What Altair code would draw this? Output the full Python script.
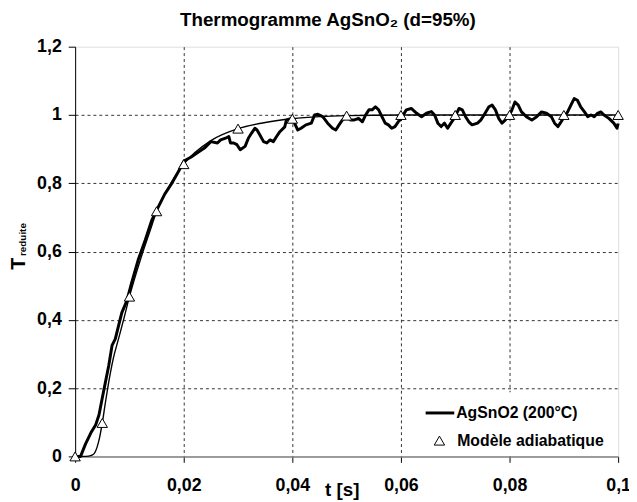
import altair as alt
import pandas as pd

FONT = "Liberation Sans"

# measured thermogram (noisy)
t_mes = [0.0000, 0.0010, 0.0019, 0.0029, 0.0038, 0.0044, 0.0050, 0.0056, 0.0062, 0.0068,
         0.0074, 0.0080, 0.0086, 0.0095, 0.0104, 0.0116, 0.0129, 0.0141, 0.0153, 0.0165,
         0.0177, 0.0189, 0.0201, 0.0213, 0.0225, 0.0238, 0.0250, 0.0262, 0.0268, 0.0277,
         0.0283, 0.0286, 0.0292, 0.0298, 0.0304, 0.0313, 0.0319, 0.0325, 0.0331, 0.0335,
         0.0340, 0.0347, 0.0353, 0.0359, 0.0365, 0.0371, 0.0377, 0.0386, 0.0389, 0.0398,
         0.0404, 0.0410, 0.0416, 0.0425, 0.0435, 0.0441, 0.0447, 0.0456, 0.0465, 0.0474,
         0.0480, 0.0486, 0.0492, 0.0501, 0.0507, 0.0513, 0.0522, 0.0529, 0.0535, 0.0541,
         0.0547, 0.0553, 0.0559, 0.0565, 0.0571, 0.0577, 0.0583, 0.0589, 0.0595, 0.0601,
         0.0604, 0.0610, 0.0619, 0.0629, 0.0638, 0.0647, 0.0656, 0.0662, 0.0668, 0.0674,
         0.0680, 0.0686, 0.0692, 0.0698, 0.0707, 0.0713, 0.0719, 0.0725, 0.0731, 0.0741,
         0.0747, 0.0753, 0.0762, 0.0768, 0.0774, 0.0780, 0.0786, 0.0792, 0.0798, 0.0804,
         0.0810, 0.0816, 0.0822, 0.0831, 0.0841, 0.0850, 0.0859, 0.0868, 0.0877, 0.0883,
         0.0889, 0.0895, 0.0901, 0.0907, 0.0913, 0.0919, 0.0925, 0.0931, 0.0938, 0.0944,
         0.0950, 0.0956, 0.0962, 0.0968, 0.0974, 0.0983, 0.0992, 0.0998, 0.1000]
T_mes = [0.000, 0.000, 0.036, 0.069, 0.093, 0.122, 0.171, 0.219, 0.267, 0.325,
         0.344, 0.383, 0.421, 0.455, 0.508, 0.575, 0.633, 0.691, 0.730, 0.768,
         0.797, 0.831, 0.866, 0.876, 0.889, 0.903, 0.922, 0.918, 0.927, 0.932,
         0.937, 0.918, 0.918, 0.913, 0.898, 0.908, 0.932, 0.947, 0.961, 0.956,
         0.942, 0.922, 0.918, 0.927, 0.922, 0.937, 0.951, 0.965, 0.985, 0.990,
         0.976, 0.956, 0.961, 0.971, 0.976, 1.000, 1.002, 0.995, 0.976, 0.961,
         0.956, 0.971, 0.985, 0.995, 0.985, 0.985, 0.990, 0.980, 1.000, 1.015,
         1.015, 1.024, 1.015, 0.995, 0.976, 0.971, 0.961, 0.966, 0.980, 0.990,
         1.000, 1.015, 1.019, 1.005, 0.995, 1.005, 1.010, 1.000, 0.976, 0.966,
         0.976, 0.961, 0.976, 0.990, 1.019, 1.015, 0.995, 0.980, 0.971, 0.976,
         0.985, 1.000, 1.024, 1.029, 1.015, 0.990, 0.976, 0.985, 0.995, 1.013,
         1.038, 1.029, 1.009, 0.995, 0.985, 0.995, 1.009, 1.005, 0.995, 0.976,
         0.966, 0.980, 0.995, 1.009, 1.029, 1.048, 1.043, 1.024, 1.009, 0.995,
         1.000, 0.995, 1.005, 1.009, 1.000, 0.990, 0.976, 0.961, 0.975]

# adiabatic model (smooth curve)
t_mod = [0.0, 0.002, 0.003, 0.0035, 0.004, 0.0045, 0.005, 0.0055, 0.006, 0.007,
         0.008, 0.009, 0.010, 0.012, 0.014, 0.015, 0.017, 0.020, 0.025, 0.030,
         0.035, 0.040, 0.045, 0.050, 0.060, 0.070, 0.080, 0.090, 0.100]
T_mod = [0.0, 0.0, 0.003, 0.008, 0.025, 0.055, 0.098, 0.150, 0.200, 0.285,
         0.345, 0.405, 0.468, 0.575, 0.670, 0.718, 0.783, 0.856, 0.925, 0.960,
         0.978, 0.989, 0.995, 0.998, 1.0, 1.0, 1.0, 1.0, 1.0]

# model markers
t_tri = [0.0, 0.005, 0.010, 0.015, 0.020, 0.030, 0.040, 0.050, 0.060, 0.070, 0.080, 0.090, 0.100]
T_tri = [0.0, 0.098, 0.468, 0.718, 0.856, 0.960, 0.989, 0.998, 1.0, 1.0, 1.0, 1.0, 1.0]

x_ticks = [0, 0.02, 0.04, 0.06, 0.08, 0.1]
y_ticks = [0, 0.2, 0.4, 0.6, 0.8, 1.0, 1.2]
series = ["AgSnO2 (200°C)", "Modèle adiabatique"]

df_mes = pd.DataFrame({"t": t_mes, "T": T_mes})
df_mod = pd.DataFrame({"t": t_mod, "T": T_mod})
df_tri = pd.DataFrame({"t": t_tri, "T": T_tri})

x_axis = alt.Axis(
    values=x_ticks,
    labelExpr="replace(format(datum.value, '.2~f'), '.', ',')",
    labelFont=FONT, labelFontSize=18, labelFontWeight="bold", labelColor="black",
    labelPadding=15, labelFlush=False, labelOverlap=False,
    tickColor="black", tickSize=6, domainColor="#808080", domainWidth=1.5,
    grid=True, gridColor="#333333", gridDash=[3, 3],
    gridOpacity={"condition": {"test": "datum.value < 0.001 || datum.value > 0.099", "value": 0}, "value": 1},
    title="t [s]", titleFont=FONT, titleFontSize=19, titleFontWeight="bold", titleColor="black",
    titleX=270, titleY=40, titleAlign="center", titleBaseline="alphabetic",
)
y_axis = alt.Axis(
    values=y_ticks,
    labelExpr="replace(format(datum.value, '.1~f'), '.', ',')",
    labelFont=FONT, labelFontSize=18, labelFontWeight="bold", labelColor="black",
    labelPadding=7, labelOverlap=False,
    tickColor="black", tickSize=7, domainColor="black", domainWidth=1,
    grid=True, gridColor="#333333", gridDash=[3, 3],
    gridOpacity={"condition": {"test": "datum.value < 0.01 || datum.value > 1.19", "value": 0}, "value": 1},
    title=None,
)

xs = alt.Scale(domain=[0, 0.1], nice=False, zero=False)
ys = alt.Scale(domain=[0, 1.2], nice=False)

base_x = alt.X("t:Q", scale=xs, axis=x_axis)
base_y = alt.Y("T:Q", scale=ys, axis=y_axis)

measured = alt.Chart(df_mes).mark_line(color="black", strokeWidth=3, strokeJoin="round").encode(
    x=base_x, y=base_y, order="t:Q")
model = alt.Chart(df_mod).mark_line(color="black", strokeWidth=1.4, interpolate="monotone").encode(
    x=base_x, y=base_y)
markers = alt.Chart(df_tri).mark_point(
    shape="triangle-up", size=110, fill="white", stroke="black", strokeWidth=1,
    fillOpacity=1, opacity=1).encode(x=base_x, y=base_y)

# legend (drawn as a small box of marks in the lower right corner)
one = pd.DataFrame({"k": [0]})
leg_box = alt.Chart(one).mark_rect(fill="white", stroke=None).encode(
    x=alt.value(336), x2=alt.value(549), y=alt.value(350), y2=alt.value(414))
leg_line = alt.Chart(one).mark_rule(color="black", strokeWidth=3).encode(
    x=alt.value(355), x2=alt.value(384), y=alt.value(371))
leg_tri = alt.Chart(one).mark_point(
    shape="triangle-up", size=110, fill="white", stroke="black", strokeWidth=1,
    fillOpacity=1, opacity=1).encode(x=alt.value(369), y=alt.value(399))
leg_txt1 = alt.Chart(one).mark_text(
    text=series[0], align="left", baseline="middle", font=FONT, fontSize=16,
    fontWeight="bold", color="black").encode(x=alt.value(386), y=alt.value(371))
leg_txt2 = alt.Chart(one).mark_text(
    text=series[1], align="left", baseline="middle", font=FONT, fontSize=16,
    fontWeight="bold", color="black").encode(x=alt.value(387), y=alt.value(399))

t_big = alt.Chart(one).mark_text(
    text="T", angle=270, align="left", baseline="alphabetic",
    font=FONT, fontSize=20, fontWeight="bold", color="black").encode(
    x=alt.value(-51), y=alt.value(226))
t_sub = alt.Chart(one).mark_text(
    text="reduite", angle=270, align="left", baseline="alphabetic",
    font=FONT, fontSize=10, fontWeight="bold", color="black").encode(
    x=alt.value(-50), y=alt.value(212))

chart = alt.layer(
    model, measured, markers, leg_box, leg_line, leg_tri, leg_txt1, leg_txt2, t_big, t_sub
).properties(
    width=550, height=415,
    title=alt.TitleParams(
        text="Thermogramme AgSnO₂ (d=95%)", font=FONT, fontSize=19, fontWeight="bold",
        color="black", anchor="middle", frame="group", dx=-19, offset=8),
    autosize=alt.AutoSizeParams(type="none"),
    padding={"left": 68, "top": 36, "right": 11, "bottom": 43},
).configure_view(stroke="#808080", strokeWidth=1).configure(background="white")

chart.save("out.html", embed_options={"renderer": "svg", "actions": False})
